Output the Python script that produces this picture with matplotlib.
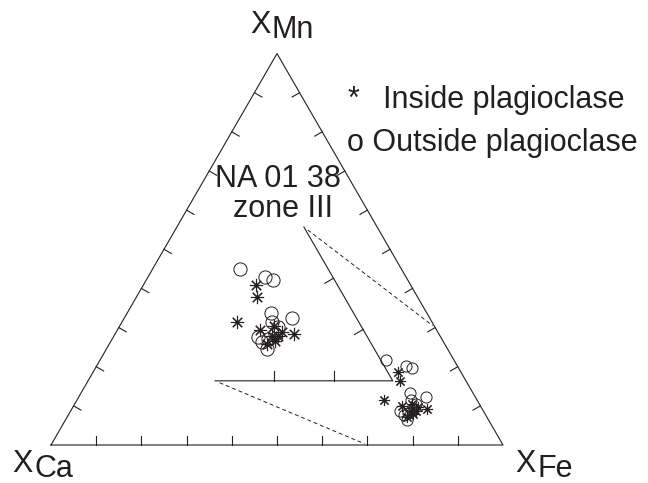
import numpy as np
import matplotlib.pyplot as plt

plt.rcParams['font.family'] = ['Liberation Sans', 'DejaVu Sans']

INK = '#231f20'
S3 = np.sqrt(3) / 2

# garnet end-member fractions, grains inside plagioclase (*)
in_ca = [0.138, 0.147, 0.206, 0.175, 0.148, 0.149, 0.122, 0.176, 0.139, 0.160, 0.160]
in_mn = [0.187, 0.163, 0.114, 0.099, 0.106, 0.088, 0.091, 0.072, 0.096, 0.088, 0.078]
in_fe = [0.675, 0.690, 0.680, 0.726, 0.746, 0.763, 0.787, 0.752, 0.765, 0.752, 0.762]

# grains outside plagioclase (o)
out_ca = [0.149, 0.114, 0.103, 0.139, 0.147, 0.109, 0.141, 0.184, 0.182, 0.181, 0.153, 0.170]
out_mn = [0.218, 0.203, 0.197, 0.132, 0.114, 0.123, 0.104, 0.086, 0.076, 0.063, 0.091, 0.081]
out_fe = [0.633, 0.683, 0.700, 0.729, 0.739, 0.768, 0.755, 0.730, 0.742, 0.756, 0.756, 0.749]

# enlarged corner: Fe >= 0.7
fe_min = 0.7
zoom_k = 1.31
zoom_origin = (0.363, 0.142)


def tern(ca, mn, fe):
    ca, mn, fe = map(np.asarray, (ca, mn, fe))
    tot = ca + mn + fe
    return (fe + mn / 2) / tot, mn * S3 / tot


def zoomed(x, y):
    x, y = np.asarray(x), np.asarray(y)
    return zoom_origin[0] + zoom_k * (x - fe_min), zoom_origin[1] + zoom_k * y


def ticks(ax, p0, p1, n, normal, length):
    for t in np.arange(1, n) / n:
        px = p0[0] + t * (p1[0] - p0[0])
        py = p0[1] + t * (p1[1] - p0[1])
        ax.plot([px, px + normal[0] * length], [py, py + normal[1] * length],
                color=INK, lw=0.8)


fig = plt.figure(figsize=(6.48, 4.83), dpi=100)
ax = fig.add_axes([0, 0, 1, 1])
ax.set_xlim(-51 / 452, 597 / 452)
ax.set_ylim(-38 / 452, 445 / 452)
ax.axis('off')

# main triangle
A, B, C = (0, 0), (1, 0), (0.5, S3)
ax.plot([A[0], B[0], C[0], A[0]], [A[1], B[1], C[1], A[1]], color=INK, lw=0.8)
tl = 0.019
ticks(ax, A, B, 10, (0, 1), tl)
ticks(ax, A, C, 10, (S3, -0.5), tl)
ticks(ax, B, C, 10, (-S3, -0.5), tl)

# enlarged corner (two sides drawn) and its guide lines
zb = zoomed(*tern(0.3, 0, 0.7))
zr = zoomed(*tern(0, 0, 1))
zt = zoomed(*tern(0, 0.3, 0.7))
ax.plot([zb[0], zr[0], zt[0]], [zb[1], zr[1], zt[1]], color=INK, lw=0.8)
ticks(ax, zb, zr, 3, (0, 1), 0.022)
ticks(ax, zr, zt, 3, (-S3, -0.5), 0.022)

cb = tern(0.3, 0, 0.7)
ct = tern(0, 0.3, 0.7)
for p, q in [(zt, ct), (zb, cb)]:
    xs = [p[0] + 0.03 * (q[0] - p[0]), p[0] + 0.98 * (q[0] - p[0])]
    ys = [p[1] + 0.03 * (q[1] - p[1]), p[1] + 0.98 * (q[1] - p[1])]
    ax.plot(xs, ys, color=INK, lw=0.7, ls=(0, (4, 3)))

# data points, full diagram and enlarged
xi, yi = tern(in_ca, in_mn, in_fe)
xo, yo = tern(out_ca, out_mn, out_fe)
star = (8, 2, 0)
ax.plot(xi, yi, ls='none', marker=star, ms=8, mew=0.8, color=INK)
ax.plot(xo, yo, ls='none', marker='o', ms=8, mew=0.7, mfc='none', color=INK)
zxi, zyi = zoomed(xi, yi)
zxo, zyo = zoomed(xo, yo)
ax.plot(zxi, zyi, ls='none', marker=star, ms=9.5, mew=0.8, color=INK)
ax.plot(zxo, zyo, ls='none', marker='o', ms=9.5, mew=0.7, mfc='none', color=INK)


def ftext(px, py, s, size=22):
    fig.text(px / 648, 1 - py / 483, s, fontsize=size, color=INK, va='baseline')


# corner labels
ftext(250, 33, 'X')
ftext(271, 38, 'Mn')
ftext(12, 472, 'X')
ftext(34, 477, 'Ca')
ftext(515, 472, 'X')
ftext(538, 477, 'Fe')

# key and sample name
ftext(348, 108, '*')
ftext(383, 108, 'Inside plagioclase')
ftext(347, 151, 'o Outside plagioclase')
ftext(215, 187, 'NA 01 38')
ftext(233, 217, 'zone III')

fig.savefig('out.png', dpi=100)
